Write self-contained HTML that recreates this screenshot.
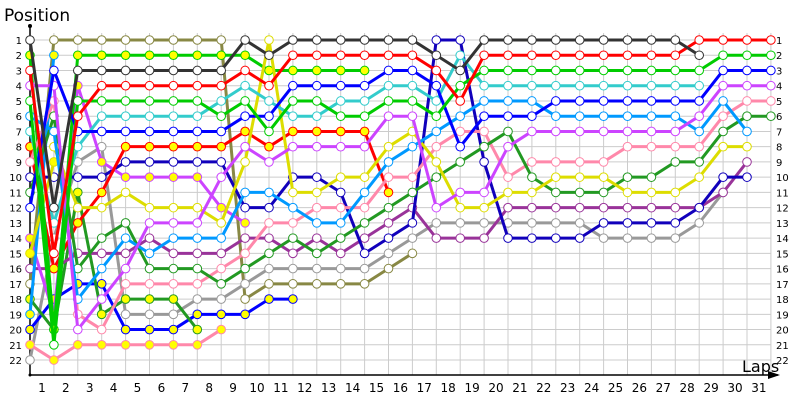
<!DOCTYPE html>
<html><head><meta charset="utf-8"><style>
html,body{margin:0;padding:0;background:#fff;width:800px;height:400px;overflow:hidden}
svg text{font-family:"DejaVu Sans","Liberation Sans",sans-serif;fill:#000}
</style></head><body>
<svg id="c" width="800" height="400" xmlns="http://www.w3.org/2000/svg"></svg>
<script>
var S=document.getElementById('c'),NS='http://www.w3.org/2000/svg';
function X(k){return 30+23.9*k}
function Y(p){return 40+(p-1)*15.24}
function el(n,a,t){var e=document.createElementNS(NS,n);for(var k in a)e.setAttribute(k,a[k]);if(t!=null)e.textContent=t;S.appendChild(e);return e}
// grid
for(var p=1;p<=22;p++){el('line',{x1:30,y1:Y(p),x2:771,y2:Y(p),stroke:'#cccccc','stroke-width':1});
 el('text',{x:22,y:Y(p)+4,'font-size':10,'text-anchor':'end'},p);
 el('text',{x:776,y:Y(p)+4,'font-size':10},p);}
for(var k=1;k<=31;k++){el('line',{x1:X(k),y1:33,x2:X(k),y2:375,stroke:'#cccccc','stroke-width':1});
 el('text',{x:X(k)-12,y:392,'font-size':12,'text-anchor':'middle'},k);}
// axes
el('line',{x1:30,y1:25,x2:30,y2:375,stroke:'#000','stroke-width':1.5});
el('circle',{cx:30,cy:26,r:2,fill:'#000'});
el('line',{x1:30,y1:375,x2:778,y2:375,stroke:'#000','stroke-width':1.5});
el('polygon',{points:'780,375 768,371 768,379',fill:'#000'});
el('circle',{cx:30,cy:375,r:1.5,fill:'#000'});
el('text',{x:4,y:21,'font-size':17},'Position');
el('text',{x:742,y:372,'font-size':16},'Laps');
var D=[
['#888844',0,[17,1,1,1,1,1,1,1,1,18,17,17,17,17,17,16,15]],
['#999999',0,[22,14,9,8,19,19,19,18,18,17,16,16,16,16,16,15,14,13,13,13,13,13,13,13,14,14,14,14,13,11]],
['#ff88aa',1,[21,22,21,21,21,21,21,21,20]],
['#0000ff',1,[20,18,17,17,20,20,20,19,19,19,18,18]],
['#229922',1,[18,20,11,19,18,18,18,20]],
['#993399',0,[16,16,15,15,15,14,15,15,15,14,14,15,14,15,14,13,12,14,14,14,12,12,12,12,12,12,12,12,12,11,9]],
['#1100bb',0,[10,10,10,10,9,9,9,9,9,12,12,10,10,11,15,14,13,1,1,9,14,14,14,14,13,13,13,13,12,10,10]],
['#cc44ff',1,[14,19,4,9,10,10,10,10,12,13]],
['#0099ff',1,[19,2]],
['#dddd00',1,[15,9]],
['#ff0000',1,[8,16,13,11,8,8,8,8,8,7,8,7,7,7,7,11]],
['#00cc00',1,[2,20,2,2,2,2,2,2,2,2,3,3,3,3,3]],
['#ff88aa',0,[9,5,19,20,17,17,17,17,16,15,13,13,12,12,12,10,10,8,7,7,10,9,9,9,9,8,8,8,8,6,5,5]],
['#229922',0,[11,6,16,14,13,16,16,16,17,16,15,14,15,14,13,12,11,10,9,8,7,10,11,11,11,10,10,9,9,7,6,6]],
['#dddd00',0,[null,8,12,12,11,12,12,12,13,9,1,11,11,10,10,8,7,9,12,12,11,11,10,10,10,11,11,11,10,8,8]],
['#0099ff',0,[6,7,18,16,14,15,14,14,14,11,11,12,13,13,11,9,8,7,6,5,5,5,6,6,6,6,6,6,7,5,7]],
['#cc44ff',0,[4,4,20,18,16,13,13,13,10,8,9,8,8,8,8,6,6,12,11,11,8,7,7,7,7,7,7,7,6,4,4,4]],
['#33cccc',0,[7,13,8,6,6,6,6,6,5,4,5,6,6,5,5,4,4,5,2,4,4,4,4,4,4,4,4,4,4]],
['#0000ff',0,[12,3,7,7,7,7,7,7,7,6,6,4,4,4,4,3,3,4,8,6,6,6,5,5,5,5,5,5,5,3,3,3]],
['#00cc00',0,[5,21,5,5,5,5,5,5,6,5,7,5,5,6,6,5,5,6,4,3,3,3,3,3,3,3,3,3,3,2,2,2]],
['#ff0000',0,[3,15,6,4,4,4,4,4,4,3,4,2,2,2,2,2,2,3,5,2,2,2,2,2,2,2,2,2,1,1,1,1]],
['#333333',0,[1,12,3,3,3,3,3,3,3,1,2,1,1,1,1,1,1,2,3,1,1,1,1,1,1,1,1,1,2]]
];
D.forEach(function(s){var c=s[0],d=s[2],pts=[];
 for(var k=0;k<d.length;k++){if(d[k]==null){if(pts.length>1)el('polyline',{points:pts.join(' '),fill:'none',stroke:c,'stroke-width':3,'stroke-linejoin':'round'});pts=[];continue;}pts.push(X(k)+','+Y(d[k]));}
 if(pts.length>1)el('polyline',{points:pts.join(' '),fill:'none',stroke:c,'stroke-width':3,'stroke-linejoin':'round'});
 for(var k=0;k<d.length;k++){if(d[k]==null)continue;el('circle',{cx:X(k),cy:Y(d[k]),r:4.3,fill:s[1]?'#ffff00':'#ffffff',stroke:c,'stroke-width':1});}
});
</script>
</body></html>
